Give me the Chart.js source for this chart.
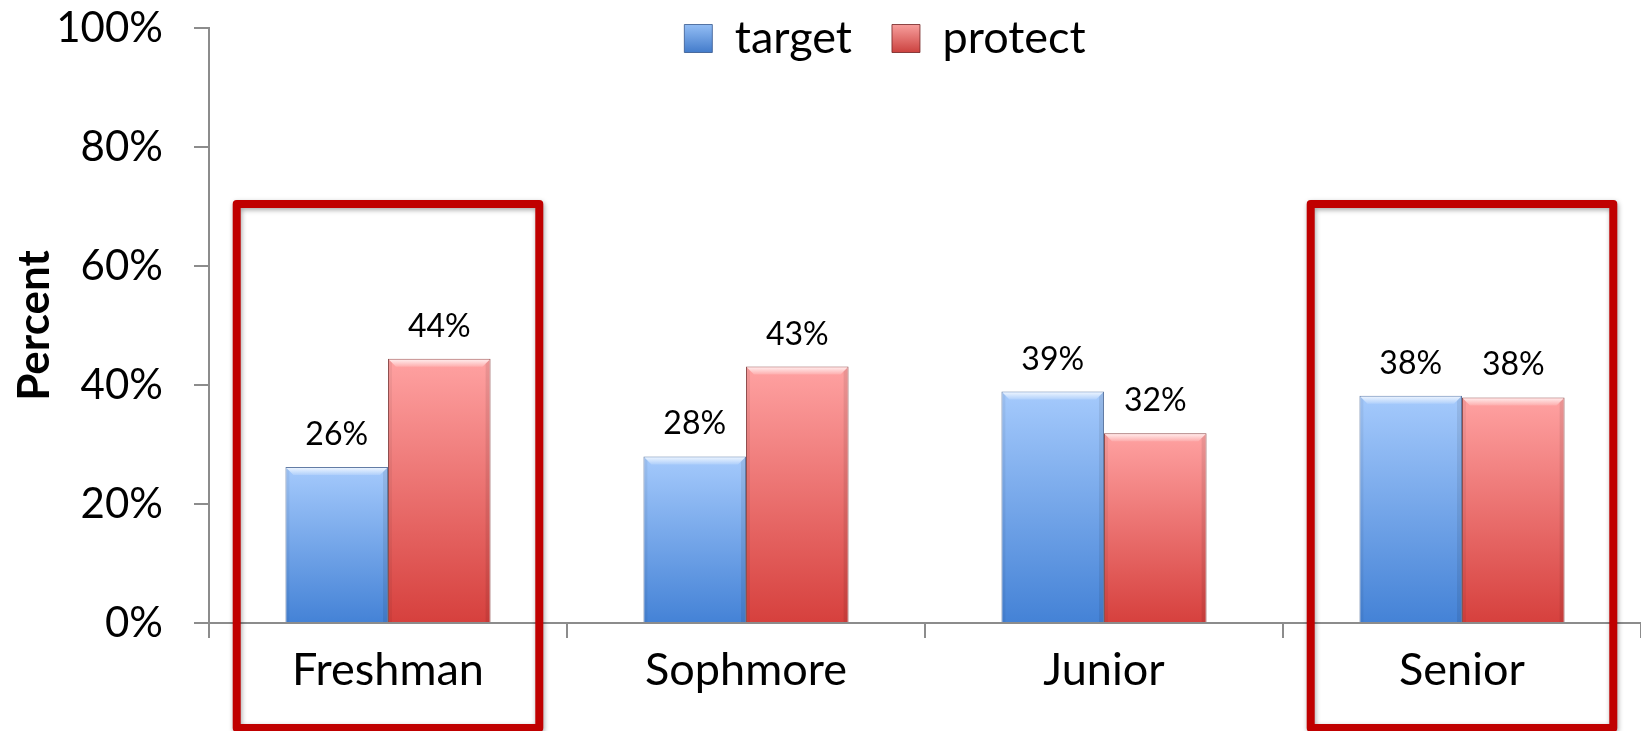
<!DOCTYPE html>
<html><head><meta charset="utf-8">
<script src="https://cdn.jsdelivr.net/npm/chart.js@4.4.1/dist/chart.umd.min.js"></script>
<style>html,body{margin:0;padding:0;background:#fff;overflow:hidden}#wrap{width:1641px;height:731px;position:relative}</style>
</head><body><div id="wrap"><canvas id="c" width="1641" height="731"></canvas></div>
<script>
// ---- data ----
const categories = ['Freshman', 'Sophmore', 'Junior', 'Senior'];
const seriesNames = ['target', 'protect'];
const targetValues = [26.2, 28.0, 38.9, 38.2];
const protectValues = [44.4, 43.1, 31.9, 37.9];
const yTicks = [0, 20, 40, 60, 80, 100];
const highlighted = ['Freshman', 'Senior'];

// ---- style ----
const FONT = 'Lato, "Open Sans", sans-serif';
const AXIS = '#8c8c8c';
const STYLE = {
  target: { top: '#a5cafc', bottom: '#4482d6', border: 'rgba(45,80,135,0.75)', legTop: '#8fbaf2', legBottom: '#3f78c8' },
  protect: { top: '#ffa2a2', bottom: '#d6403d', border: 'rgba(115,35,35,0.8)', legTop: '#f59a98', legBottom: '#c93d3a' }
};

function gradFill(st) {
  return (ctx) => {
    const chart = ctx.chart, y = chart.scales && chart.scales.y;
    if (!y || ctx.type !== 'data') return st.bottom;
    const y0 = y.getPixelForValue(ctx.raw), y1 = y.getPixelForValue(0);
    if (!isFinite(y0) || !isFinite(y1) || y0 === y1) return st.bottom;
    const g = chart.ctx.createLinearGradient(0, y0, 0, y1);
    g.addColorStop(0, st.top);
    g.addColorStop(1, st.bottom);
    return g;
  };
}

const barDeco = {
  id: 'barDeco',
  afterDatasetsDraw(chart) {
    const ctx = chart.ctx;
    chart.getSortedVisibleDatasetMetas().forEach((meta) => {
      meta.data.forEach((bar, i) => {
        const p = bar.getProps(['x', 'y', 'base', 'width'], true);
        const l = p.x - p.width / 2, r = p.x + p.width / 2, t = p.y, b = 8;
        ctx.save();
        ctx.beginPath();
        ctx.moveTo(l + 1, t + 1); ctx.lineTo(r - 1, t + 1); ctx.lineTo(r - b, t + b); ctx.lineTo(l + b, t + b); ctx.closePath();
        const g = ctx.createLinearGradient(0, t, 0, t + b);
        g.addColorStop(0, 'rgba(255,255,255,0.85)');
        g.addColorStop(1, 'rgba(255,255,255,0.15)');
        ctx.fillStyle = g; ctx.fill();
        ctx.beginPath();
        ctx.moveTo(r - 1, t + 1); ctx.lineTo(r - 1, p.base); ctx.lineTo(r - 5, p.base); ctx.lineTo(r - 5, t + 5); ctx.closePath();
        ctx.fillStyle = 'rgba(0,0,0,0.08)'; ctx.fill();
        ctx.beginPath();
        ctx.moveTo(l + 1, t + 1); ctx.lineTo(l + 1, p.base); ctx.lineTo(l + 4, p.base); ctx.lineTo(l + 4, t + 4); ctx.closePath();
        ctx.fillStyle = 'rgba(0,0,0,0.05)'; ctx.fill();
        const v = chart.data.datasets[meta.index].data[i];
        ctx.fillStyle = '#000';
        ctx.font = '32px ' + FONT;
        ctx.textAlign = 'center';
        ctx.textBaseline = 'alphabetic';
        ctx.fillText(Math.round(v) + '%', p.x, t - 22);
        ctx.restore();
      });
    });
  }
};

const legendPlace = {
  id: 'legendPlace',
  beforeLayout(chart) {
    const lg = chart.legend;
    if (lg && !lg._zeroFit) {
      const f = lg.fit;
      lg.fit = function () { f.call(this); this._realH = this.height; this.height = 0; };
      lg._zeroFit = true;
    }
  },
  afterLayout(chart) {
    const lg = chart.legend;
    if (!lg) return;
    const dx = 885 - (lg.left + lg.right) / 2;
    lg.left += dx; lg.right += dx;
    lg.top = -24;
    lg.bottom = lg.top + (lg._realH || 100) + 40;
  }
};

const boxes = {
  id: 'boxes',
  afterDraw(chart) {
    const xs = chart.scales.x, ys = chart.scales.y, ctx = chart.ctx;
    const catW = xs.getPixelForValue(1) - xs.getPixelForValue(0);
    highlighted.forEach((name) => {
      const i = categories.indexOf(name);
      if (i < 0) return;
      const cx = xs.getPixelForValue(i);
      const l = cx - 0.4226 * catW, r = cx + 0.4226 * catW;
      const t = ys.getPixelForValue(70.4), b = chart.height - 3;
      ctx.save();
      ctx.shadowColor = 'rgba(0,0,0,0.35)';
      ctx.shadowBlur = 5; ctx.shadowOffsetX = 1; ctx.shadowOffsetY = 2;
      ctx.strokeStyle = '#c00000';
      ctx.lineWidth = 8;
      ctx.lineJoin = 'round';
      ctx.beginPath();
      ctx.rect(l, t, r - l, b - t);
      ctx.stroke();
      ctx.restore();
    });
  }
};

new Chart(document.getElementById('c'), {
  type: 'bar',
  data: {
    labels: categories,
    datasets: [
      { label: seriesNames[0], data: targetValues, backgroundColor: gradFill(STYLE.target), borderColor: STYLE.target.border, borderWidth: 1, borderSkipped: 'bottom' },
      { label: seriesNames[1], data: protectValues, backgroundColor: gradFill(STYLE.protect), borderColor: STYLE.protect.border, borderWidth: 1, borderSkipped: 'bottom' }
    ]
  },
  options: {
    responsive: false,
    devicePixelRatio: 1,
    animation: false,
    categoryPercentage: 0.573,
    barPercentage: 1.0,
    layout: { padding: { top: 28, right: 0, bottom: 0, left: 0 } },
    plugins: {
      tooltip: { enabled: false },
      legend: {
        position: 'top',
        align: 'center',
        labels: {
          font: { family: FONT, size: 45 },
          color: '#000',
          boxWidth: 28,
          boxHeight: 28,
          padding: 40,
          generateLabels(chart) {
            const items = Chart.defaults.plugins.legend.labels.generateLabels(chart);
            items.forEach((it, k) => {
              const st = k === 0 ? STYLE.target : STYLE.protect;
              const g = chart.ctx.createLinearGradient(0, 26, 0, 54);
              g.addColorStop(0, st.legTop); g.addColorStop(1, st.legBottom);
              it.fillStyle = g;
              it.strokeStyle = st.border;
              it.lineWidth = 1;
            });
            return items;
          }
        }
      }
    },
    scales: {
      x: {
        grid: { display: true, drawOnChartArea: false, drawTicks: true, tickLength: 15, color: AXIS, lineWidth: 2, offset: true },
        border: { display: true, color: AXIS, width: 2 },
        ticks: { font: { family: FONT, size: 45 }, color: '#000', padding: 5 },
        afterFit(s) { s.height = 108; s.paddingLeft = 0; s.paddingRight = 0; }
      },
      y: {
        min: 0, max: 100,
        afterBuildTicks(s) { s.ticks = yTicks.map((v) => ({ value: v })); },
        grid: { drawOnChartArea: false, drawTicks: true, tickLength: 15, color: AXIS, lineWidth: 2 },
        border: { display: true, color: AXIS, width: 2 },
        ticks: { font: { family: FONT, size: 42 }, color: '#000', padding: 31, callback: (v) => v + '%' },
        title: { display: true, text: 'Percent', font: { family: FONT, size: 44, weight: 'bold' }, color: '#000', padding: { top: 8, bottom: 0 } },
        afterFit(s) { s.width = 209; s.paddingTop = 0; s.paddingBottom = 0; }
      }
    }
  },
  plugins: [legendPlace, barDeco, boxes]
});
</script>
</body></html>
